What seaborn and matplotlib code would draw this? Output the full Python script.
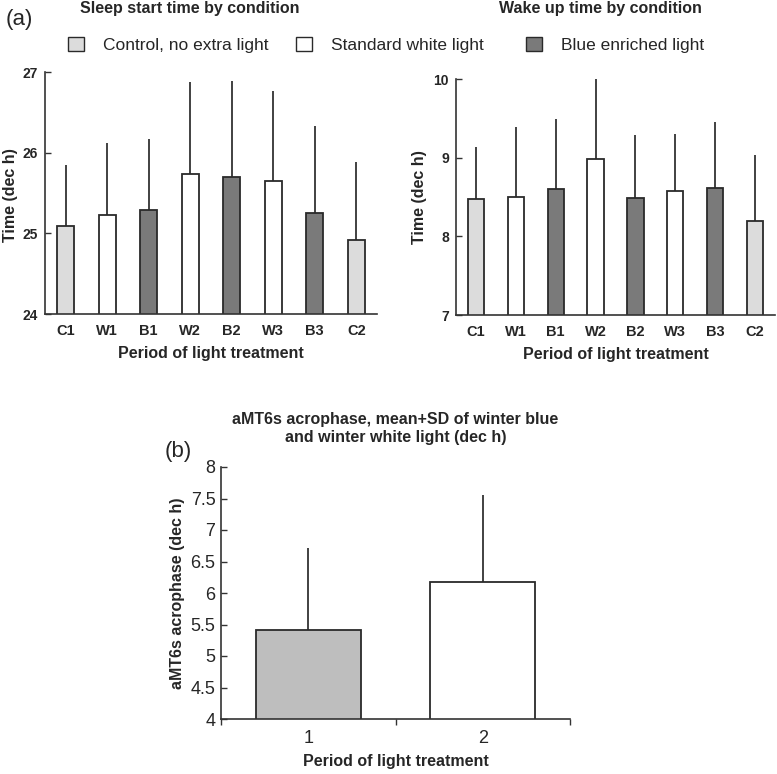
import numpy as np
import pandas as pd
import matplotlib
matplotlib.use("Agg")
import matplotlib.pyplot as plt
import seaborn as sns
from matplotlib.patches import Patch

sns.set_theme(style="ticks")
plt.rcParams['font.family'] = ['Liberation Sans', 'DejaVu Sans']

# ---- data ----
periods = ["C1", "W1", "B1", "W2", "B2", "W3", "B3", "C2"]
conditions = ["C", "W", "B", "W", "B", "W", "B", "C"]
sleep_mean = [25.09, 25.23, 25.29, 25.73, 25.70, 25.65, 25.25, 24.92]
sleep_sd = [0.76, 0.89, 0.88, 1.14, 1.19, 1.11, 1.08, 0.97]
wake_mean = [8.48, 8.50, 8.60, 8.98, 8.49, 8.57, 8.62, 8.20]
wake_sd = [0.65, 0.89, 0.89, 1.02, 0.80, 0.73, 0.83, 0.84]
b_labels = ["1", "2"]
b_mean = [5.42, 6.17]
b_sd = [1.30, 1.38]

legend_labels = ["Control, no extra light", "Standard white light", "Blue enriched light"]

cond_colors = {"C": "#dcdcdc", "W": "#ffffff", "B": "#7a7a7a"}
b_colors = ["#bebebe", "#ffffff"]
EDGE = "#2a2a2a"

W, H = 777, 774
fig = plt.figure(figsize=(W / 100, H / 100), dpi=100)


def ax_px(x0, y0, x1, y1):
    return fig.add_axes([x0 / W, 1 - y1 / H, (x1 - x0) / W, (y1 - y0) / H])


def top_panel(ax, means, sds, ylim, yticks, width):
    df = pd.DataFrame({"period": periods, "cond": conditions, "val": means})
    sns.barplot(data=df, x="period", y="val", hue="period",
                palette=[cond_colors[c] for c in conditions], legend=False,
                width=width, edgecolor=EDGE, linewidth=1.3, ax=ax, errorbar=None)
    ax.vlines(np.arange(len(periods)), means, np.array(means) + np.array(sds),
              color="#333333", linewidth=1.3, zorder=1)
    for p in ax.patches:
        p.set_zorder(2)
    ax.set_ylim(*ylim)
    ax.set_xlim(-0.5, len(periods) - 0.5)
    ax.set_yticks(yticks)
    ax.set_yticklabels([str(t) for t in yticks], fontweight="bold", fontsize=10)
    ax.tick_params(axis="y", direction="in", length=4, width=1, color="#333333", left=True, pad=5)
    ax.tick_params(axis="x", length=0, pad=7)
    for lbl in ax.get_xticklabels():
        lbl.set_fontweight("bold")
        lbl.set_fontsize(10.5)
    sns.despine(ax=ax)
    for s in ("left", "bottom"):
        ax.spines[s].set_color("#333333")
        ax.spines[s].set_linewidth(1.2)
    ax.set_xlabel("Period of light treatment", fontweight="bold", fontsize=11.5, labelpad=6)
    ax.set_ylabel("Time (dec h)", fontweight="bold", fontsize=11.5, labelpad=4)
    ax.set_facecolor("white")


ax1 = ax_px(45, 72, 377, 314)
top_panel(ax1, sleep_mean, sleep_sd, (24, 27), [24, 25, 26, 27], 0.4)
ax1.yaxis.set_label_coords(-0.08, 0.49)

ax2 = ax_px(456, 79, 775, 315)
top_panel(ax2, wake_mean, wake_sd, (7, 10), [7, 8, 9, 10], 0.41)
ax2.yaxis.set_label_coords(-0.09, 0.5)

fig.text(190 / W, 1 - 9 / H, "Sleep start time by condition", ha="center", va="center",
         fontweight="bold", fontsize=11.5)
fig.text(600 / W, 1 - 9 / H, "Wake up time by condition", ha="center", va="center",
         fontweight="bold", fontsize=11.5)
fig.text(6 / W, 1 - 19 / H, "(a)", ha="left", va="center", fontsize=16)

# legend entries
legend_x = [68, 296, 526]
for lx, lab, c in zip(legend_x, legend_labels, ["C", "W", "B"]):
    fig.legend(handles=[Patch(facecolor=cond_colors[c], edgecolor=EDGE, linewidth=1.0)],
               labels=[lab], loc="center left", bbox_to_anchor=(lx / W, 1 - 45 / H),
               frameon=False, fontsize=12.5, handlelength=0.9, handleheight=0.9,
               handletextpad=1.1, borderaxespad=0, borderpad=0)

# ---- panel b ----
ax3 = ax_px(221, 467, 570, 719)
dfb = pd.DataFrame({"period": b_labels, "val": b_mean})
sns.barplot(data=dfb, x="period", y="val", hue="period", palette=b_colors, legend=False,
            width=0.6, edgecolor=EDGE, linewidth=1.3, ax=ax3, errorbar=None)
ax3.vlines(np.arange(len(b_labels)), b_mean, np.array(b_mean) + np.array(b_sd),
           color="#333333", linewidth=1.3, zorder=1)
for p in ax3.patches:
    p.set_zorder(2)
ax3.set_ylim(4, 8)
ax3.set_xlim(-0.5, 1.5)
yt = [4, 4.5, 5, 5.5, 6, 6.5, 7, 7.5, 8]
ax3.set_yticks(yt)
ax3.set_yticklabels(["4", "4.5", "5", "5.5", "6", "6.5", "7", "7.5", "8"], fontsize=13)
ax3.tick_params(axis="y", direction="in", length=4, width=1, color="#333333", left=True, pad=4)
ax3.set_xticks([-0.5, 0.5, 1.5], minor=True)
ax3.tick_params(axis="x", which="minor", direction="out", length=4, width=1, color="#333333", bottom=True)
ax3.tick_params(axis="x", which="major", length=0, pad=8, labelsize=13)
sns.despine(ax=ax3)
for s in ("left", "bottom"):
    ax3.spines[s].set_color("#333333")
    ax3.spines[s].set_linewidth(1.2)
ax3.set_xlabel("Period of light treatment", fontweight="bold", fontsize=11.5, labelpad=5)
ax3.set_ylabel("aMT6s acrophase (dec h)", fontweight="bold", fontsize=11.5, labelpad=4)
ax3.set_title("aMT6s acrophase, mean+SD of winter blue\nand winter white light (dec h)",
              fontweight="bold", fontsize=11.5, pad=18, linespacing=1.25)
fig.text(178 / W, 1 - 452 / H, "(b)", ha="center", va="center", fontsize=16)

fig.savefig("out.png", dpi=100, facecolor="white")
